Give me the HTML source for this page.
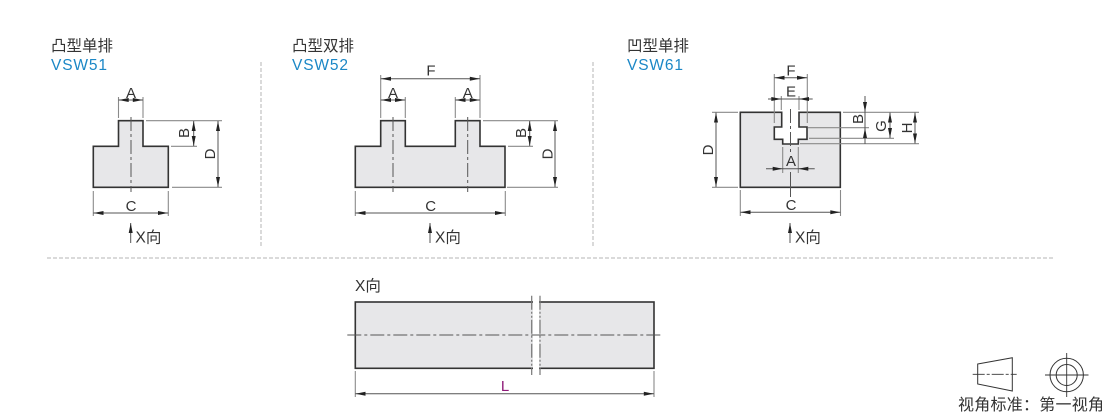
<!DOCTYPE html>
<html><head><meta charset="utf-8"><style>
html,body{margin:0;padding:0;background:#fff;width:1110px;height:415px;overflow:hidden}
svg{display:block}
text{font-family:"Liberation Sans","Noto Sans CJK SC",sans-serif;fill:#333}
.l{font-size:15px;text-anchor:middle}
.t{font-size:15.5px}
.v{font-size:15.5px;fill:#1b87c6}
.sh{fill:#e7e7e9;stroke:#333;stroke-width:1.6}
.c{stroke:#555;stroke-width:1;stroke-dasharray:14 3 3 3;fill:none}
.e{stroke:#8a8a8a;stroke-width:1.1;fill:none}
.d{stroke:#555;stroke-width:1;fill:none}
.a{fill:#222}
.sep{stroke:#b5b5b5;stroke-width:1;stroke-dasharray:4 2;fill:none}
</style></head><body>
<svg width="1110" height="415" viewBox="0 0 1110 415" xmlns="http://www.w3.org/2000/svg">
<defs>
<path id="r" class="a" d="M0 0L-10-2V2Z"/>
<path id="l" class="a" d="M0 0L10-2V2Z"/>
<path id="u" class="a" d="M0 0L-2 10H2Z"/>
<path id="n" class="a" d="M0 0L-2-10H2Z"/>
</defs>

<!-- separators -->
<path class="sep" d="M261 62V246M593 62V246M47 258H1055"/>

<!-- titles -->
<text class="t" x="51" y="51" textLength="62">凸型单排</text>
<text class="v" x="51" y="70" textLength="56">VSW51</text>
<text class="t" x="292" y="51" textLength="62">凸型双排</text>
<text class="v" x="292" y="70" textLength="56">VSW52</text>
<text class="t" x="627" y="51" textLength="62">凹型单排</text>
<text class="v" x="627" y="70" textLength="56">VSW61</text>

<!-- VSW51 -->
<path class="sh" d="M118.5 120.7H143V146.3H168.3V187.3H93.3V146.3H118.5Z"/>
<path class="c" d="M131 117V192"/>
<path class="e" d="M118.5 97V118M143 97V118M146 120.7H197M171 146.3H197M172 187.3H222M146 120.7H222M93.3 191V216M168.3 191V216"/>
<path class="d" d="M118.5 100H143M193.7 121V146M218 121V187M93.3 213H168.3M130.7 223V243"/>
<use href="#l" x="118.7" y="100"/><use href="#r" x="142.8" y="100"/>
<use href="#u" x="193.7" y="121"/><use href="#n" x="193.7" y="146"/>
<use href="#u" x="218" y="121"/><use href="#n" x="218" y="187"/>
<use href="#l" x="93.5" y="213"/><use href="#r" x="168" y="213"/>
<use href="#u" x="130.7" y="223"/>
<text class="l" x="131" y="98">A</text>
<text class="l" transform="translate(189,133) rotate(-90)">B</text>
<text class="l" transform="translate(215,154) rotate(-90)">D</text>
<text class="l" x="131" y="211">C</text>
<text class="t" x="135.5" y="242.5">X向</text>

<!-- VSW52 -->
<path class="sh" d="M380.7 120.7H405.3V146.3H455.3V120.7H480V146.3H505V187.3H355.3V146.3H380.7Z"/>
<path class="c" d="M393 117V192M467.7 117V192"/>
<path class="e" d="M380.7 75V118M480 75V118M405.3 97V118M455.3 97V118M483 120.7H558M508 146.3H533M507 187.3H558M355.3 191V216M505.3 191V216"/>
<path class="d" d="M380.7 78.7H480M380.7 100H405.3M455.3 100H480M529.7 121V146M555 121V187M355.3 213H505.3M430 223V243"/>
<use href="#l" x="381" y="78.7"/><use href="#r" x="479.8" y="78.7"/>
<use href="#l" x="381" y="100"/><use href="#r" x="405" y="100"/>
<use href="#l" x="455.5" y="100"/><use href="#r" x="479.8" y="100"/>
<use href="#u" x="529.7" y="121"/><use href="#n" x="529.7" y="146"/>
<use href="#u" x="555" y="121"/><use href="#n" x="555" y="187"/>
<use href="#l" x="355.5" y="213"/><use href="#r" x="505" y="213"/>
<use href="#u" x="430" y="223"/>
<text class="l" x="431" y="75.5">F</text>
<text class="l" x="393" y="98">A</text>
<text class="l" x="467.7" y="98">A</text>
<text class="l" transform="translate(526,133) rotate(-90)">B</text>
<text class="l" transform="translate(552.7,154) rotate(-90)">D</text>
<text class="l" x="430.7" y="211">C</text>
<text class="t" x="435" y="242.5">X向</text>

<!-- VSW61 -->
<path class="sh" d="M740.3 112.3H781.7V127H774.3V139.3H782.7V144H798.3V139.3H807V127H799V112.3H840.3V187.3H740.3Z"/>
<path class="c" d="M790.5 109V155"/>
<path class="d" d="M790.5 172V197"/>
<path class="e" d="M774.3 74V123M807.3 74V123M781.3 96V110M799 96V110M782.7 147V173M798.3 147V173M843 112.3H919M808 127.7H869M809 138.3H894M800 143.7H919M712 112.3H738M712 187.3H738M740.3 190V216M840.5 190V216"/>
<path class="d" d="M774.3 77.7H807.3M768 99H812.7M766 168.7H814.7M865 96V144M890 112.5V138M915 112.5V143.5M716 112.5V187M740.3 212.3H840.5M790 223V243"/>
<use href="#l" x="774.5" y="77.7"/><use href="#r" x="807" y="77.7"/>
<use href="#r" x="781.3" y="99"/><use href="#l" x="799" y="99"/>
<use href="#r" x="782.7" y="168.7"/><use href="#l" x="798.3" y="168.7"/>
<use href="#n" x="865" y="112"/><use href="#u" x="865" y="128"/>
<use href="#u" x="890" y="112.5"/><use href="#n" x="890" y="138"/>
<use href="#u" x="915" y="112.5"/><use href="#n" x="915" y="143.5"/>
<use href="#u" x="716" y="112.5"/><use href="#n" x="716" y="187"/>
<use href="#l" x="740.5" y="212.3"/><use href="#r" x="840.3" y="212.3"/>
<use href="#u" x="790" y="223"/>
<text class="l" x="791" y="75.5">F</text>
<text class="l" x="791" y="96.7">E</text>
<text class="l" x="791" y="166">A</text>
<text class="l" transform="translate(863,119) rotate(-90)">B</text>
<text class="l" transform="translate(886,126) rotate(-90)">G</text>
<text class="l" transform="translate(912,128) rotate(-90)">H</text>
<text class="l" transform="translate(713,150) rotate(-90)">D</text>
<text class="l" x="791" y="210">C</text>
<text class="t" x="795" y="242.5">X向</text>

<!-- X view -->
<text class="t" x="355" y="291">X向</text>
<rect class="sh" x="355.3" y="302" width="298.7" height="66.3"/>
<rect x="533" y="298" width="6" height="74" fill="#fff"/>
<path class="c" d="M347.3 335H661.7"/>
<path d="M531.7 295.7V375M540 295.7V375" stroke="#777" stroke-width="1.2" stroke-dasharray="14 2 2 2 2 2" fill="none"/>
<path class="e" d="M355.3 371V397M654 371V397"/>
<path class="d" d="M355.3 393.7H654"/>
<use href="#l" x="355.5" y="393.7"/><use href="#r" x="653.8" y="393.7"/>
<text class="l" x="505" y="391" style="fill:#8e1a78">L</text>

<!-- projection symbol -->
<path d="M977.7 364L1012.3 357.7V391L977.7 384Z" fill="none" stroke="#333" stroke-width="1"/>
<path d="M972.7 374.3H1016.7" stroke="#333" stroke-width=".9" stroke-dasharray="12 2 3 2" fill="none"/>
<circle cx="1066.7" cy="375" r="16.7" fill="none" stroke="#333" stroke-width="1"/>
<circle cx="1066.7" cy="375" r="10.5" fill="none" stroke="#333" stroke-width="1"/>
<path d="M1045 375H1088.5M1066.7 353V397" stroke="#333" stroke-width=".9" fill="none"/>
<text x="958" y="410" style="font-size:16px" textLength="146">视角标准：第一视角</text>
</svg>
</body></html>
